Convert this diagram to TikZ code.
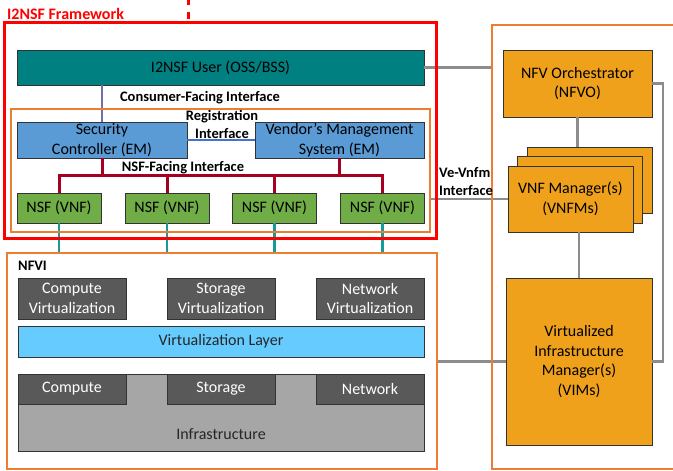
\documentclass[tikz,border=0pt]{standalone}
\usepackage{fontspec}
\setmainfont{Carlito}
\definecolor{fwred}{HTML}{FF0000}
\definecolor{frameorange}{HTML}{ED7D31}
\definecolor{userteal}{HTML}{008080}
\definecolor{emblue}{HTML}{5B9BD5}
\definecolor{nsfgreen}{HTML}{70AD47}
\definecolor{busred}{HTML}{A50021}
\definecolor{linkteal}{HTML}{15999A}
\definecolor{hwgray}{HTML}{595959}
\definecolor{virtblue}{HTML}{66CCFF}
\definecolor{infragray}{HTML}{A6A6A6}
\definecolor{manoorange}{HTML}{F0A11C}
\definecolor{wiregray}{HTML}{8C8C8C}
\definecolor{cfipurple}{HTML}{7070AA}
\definecolor{regblue}{HTML}{4472C4}
\tikzset{
  box/.style={draw=black!80, line width=0.9pt, inner sep=0pt, align=center,
    font=\fontsize{16}{19.5}\selectfont},
  userbox/.style={box, fill=userteal},
  embox/.style={box, fill=emblue},
  nsfbox/.style={box, fill=nsfgreen, minimum width=84, minimum height=30},
  hwbox/.style={box, fill=hwgray, text=white, minimum width=108},
  manobox/.style={box, fill=manoorange},
  frame/.style={draw=#1, line width=2.5pt, inner sep=0pt},
  iflabel/.style={font=\bfseries\fontsize{14.5}{18}\selectfont, inner sep=0pt, align=center},
  wire/.style={draw=wiregray, line width=2.8pt},
}
\begin{document}
\begin{tikzpicture}[x=1pt, y=-1pt]
\useasboundingbox (0,0) rectangle (673,471);
\clip (0,0) rectangle (673,471);

% ---- frames (geometry only, drawn again on top later) ----
\path (220.5,130.5) node[minimum width=432, minimum height=215, inner sep=0pt] (fw) {};
\path (220.5,170.5) node[minimum width=419, minimum height=123, inner sep=0pt] (nsfzone) {};
\path (222,361) node[minimum width=430, minimum height=216, inner sep=0pt] (nfvi) {};
\path (596,247) node[minimum width=208, minimum height=444, inner sep=0pt] (mano) {};

% ---- I2NSF side ----
\node[userbox, minimum width=407, minimum height=35] (user) at (220.5,67.5) {I2NSF User (OSS/BSS)};
\node[embox, minimum width=170, minimum height=36] (sc) at (102,140) {Security\\Controller (EM)};
\node[embox, minimum width=169, minimum height=36] (vms) at (339.5,140) {Vendor's Management\\System (EM)};
\node[nsfbox] (nsf1) at (59,208) {NSF (VNF)};
\node[nsfbox] (nsf2) at (167,208) {NSF (VNF)};
\node[nsfbox] (nsf3) at (274.5,208) {NSF (VNF)};
\node[nsfbox] (nsf4) at (382.5,208) {NSF (VNF)};
\coordinate (bus) at (220,175);

% ---- NFVI ----
\node[box, fill=infragray, minimum width=406, minimum height=77,
  label={[yshift=-21.5pt, font=\fontsize{16}{19.5}\selectfont, text=black!85]center:Infrastructure}]
  (infra) at (221,412.5) {};
\node[hwbox, minimum height=41] (cv) at (72,298.5) {Compute\\Virtualization};
\node[hwbox, minimum height=41] (sv) at (221,298.5) {Storage\\Virtualization};
\node[hwbox, minimum height=41] (nv) at (370,298.5) {Network\\Virtualization};
\node[box, fill=virtblue, text=black!85, minimum width=406, minimum height=31] (vl) at (221,341.5) {Virtualization Layer};
\node[hwbox, minimum height=30] (hc) at (72,389) {Compute};
\node[hwbox, minimum height=30] (hs) at (221,389) {Storage};
\node[hwbox, minimum height=30] (hn) at (370,389) {Network};

% ---- MANO ----
\node[manobox, minimum width=149, minimum height=67] (nfvo) at (577.5,83.5) {NFV Orchestrator\\(NFVO)};
\node[manobox, minimum width=125, minimum height=66] (vnfm3) at (589.5,180) {};
\node[manobox, minimum width=125, minimum height=67] (vnfm2) at (579.5,189.5) {};
\node[manobox, minimum width=125, minimum height=66] (vnfm1) at (570.5,199) {VNF Manager(s)\\(VNFMs)};
\node[manobox, minimum width=146, minimum height=167] (vim) at (579,361.5)
  {Virtualized\\Infrastructure\\Manager(s)\\(VIMs)};
\coordinate (rbend) at (663,361.5);

% ---- connectors ----
\draw[cfipurple, line width=2.2pt] (user.south -| sc.north) -- (sc.north);
\draw[regblue, line width=2pt] (sc.east) -- (vms.west);
\begin{scope}[busred, line width=3pt]
  \draw (sc.south) -- (sc.south |- bus);
  \draw (vms.south) -- (vms.south |- bus);
  \draw (nsf1.north) |- (bus) -| (nsf4.north);
  \draw (nsf2.north) -- (nsf2.north |- bus);
  \draw (nsf3.north) -- (nsf3.north |- bus);
\end{scope}
\begin{scope}[linkteal, line width=2.5pt]
  \foreach \n in {nsf1,nsf2,nsf3,nsf4}
    \draw (\n.south) -- (\n.south |- nfvi.north);
\end{scope}
\draw[wire] (user.east) -- (user.east -| mano.west);
\draw[wire] (vnfm1.west) -- (vnfm1.west -| nsfzone.east);
\draw[wire] (nfvo.south) -- (nfvo.south |- vnfm3.north);
\draw[wire] (vim.north) -- (vim.north |- vnfm1.south);
\draw[wire] (vim.west) -- (vim.west -| nfvi.east);
\draw[wire] (nfvo.east) -| (rbend) -- (vim.east);

% ---- frame outlines ----
\draw[frame=frameorange] (nsfzone.north west) rectangle (nsfzone.south east);
\draw[frame=fwred, line width=3pt] (fw.north west) rectangle (fw.south east);
\draw[frame=frameorange] (nfvi.north west) rectangle (nfvi.south east);
\draw[frame=frameorange] (mano.north west) rectangle (mano.south east);
\coordinate (dtop) at (188,0);
\draw[fwred, line width=3pt, dash pattern=on 7pt off 7pt, dash phase=2pt] (dtop) -- (dtop |- 0,19);

% ---- labels ----
\node[anchor=west, text=fwred, font=\bfseries\fontsize{16}{19}\selectfont, inner sep=0pt] (fwtitle) at (7,14) {I2NSF Framework};
\node[iflabel] (cfi) at (200,98) {Consumer-Facing Interface};
\node[iflabel, font=\bfseries\fontsize{14.5}{18}\selectfont] (ri) at (222,124) {Registration\\Interface};
\node[iflabel] (nfi) at (183,168) {NSF-Facing Interface};
\node[iflabel, anchor=west] (nfvilabel) at (18,266) {NFVI};
\node[iflabel, anchor=west, align=left] (vevnfm) at (439,182) {Ve-Vnfm\\Interface};
\end{tikzpicture}
\end{document}
